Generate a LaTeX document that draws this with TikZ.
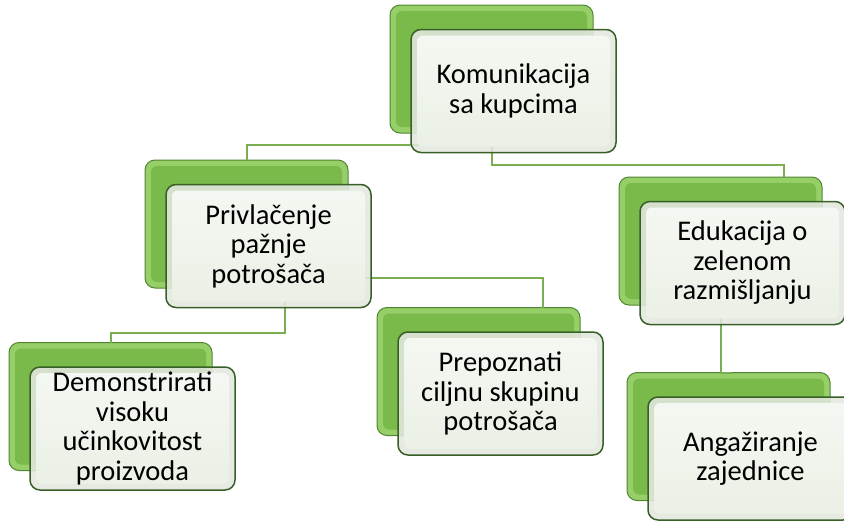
\documentclass[tikz,border=0pt]{standalone}
\usepackage{fontspec}
\setmainfont{Carlito}
\usepackage{tikz}
\usetikzlibrary{calc}
\usetikzlibrary{positioning}
\usepackage{xcolor}
\definecolor{leafgreen}{RGB}{122,186,74}
\definecolor{leaflight}{RGB}{150,206,104}
\definecolor{leafdark}{RGB}{80,134,50}
\definecolor{framegreen}{RGB}{56,96,38}
\definecolor{bevelgray}{RGB}{226,231,222}
\definecolor{paleface}{RGB}{236,242,231}
\definecolor{linegreen}{RGB}{122,174,80}
\tikzset{
backbox/.style={draw=leafdark,
  line width=1pt,
    rounded corners=10pt,
    minimum width=203pt,
    minimum height=128pt,
    inner sep=0pt, outer sep=0pt,
    fill=leaflight,
    path picture={\fill [leafgreen, rounded corners=6pt]
      ([shift={(6pt,-6pt)}]path picture bounding box.north west) rectangle
      ([shift={(-6pt,6pt)}]path picture bounding box.south east);}},
facebox/.style={draw=framegreen,
  line width=1.5pt,
    rounded corners=10pt,
    minimum width=205pt,
    minimum height=123pt,
    inner sep=0pt, outer sep=0pt,
    fill=bevelgray,
    fill opacity=0.88, text opacity=1,
    path picture={\fill [top color=white!60!paleface, bottom color=paleface, rounded corners=6pt, fill opacity=0.9]
      ([shift={(6pt,-6pt)}]path picture bounding box.north west) rectangle
      ([shift={(-6pt,6pt)}]path picture bounding box.south east);},
    font=\fontsize{28.5}{29.5}\selectfont,
    align=center},
conn/.style={draw=linegreen,
  line width=2pt},
}

\begin{document}
\begin{tikzpicture}[x=1pt,y=1pt]
  \useasboundingbox (0,0) rectangle (844,-528);

  % Back boxes
  \node [backbox] (kom-back)  at (491.5,-69) {};
  \node [backbox] (priv-back) at (246.5,-224) {};
  \node [backbox] (edu-back)  at (720.5,-241) {};
  \node [backbox] (dem-back)  at (110.5,-406.5) {};
  \node [backbox] (prep-back) at (478.5,-371.5) {};
  \node [backbox] (ang-back)  at (728.5,-436.5) {};

  % Edges with right-angle corners
  \draw [conn] (kom-back.south) -- ++(0,-12) -| (priv-back.north);
  \draw [conn] (kom-back.south) -- ++(0,-32) -| ([xshift=63]edu-back.north);
  \draw [conn] ([xshift=38]priv-back.south) -- ++(0,-45) -| (dem-back.north);
  \draw [conn] ([yshift=-54]priv-back.east) -| ([xshift=64]prep-back.north);
  \draw [conn] (edu-back.south) -- ++(0,-68) -| ([xshift=3.5]ang-back.north);

  % Front boxes
  \node [facebox] (kom)  at ([shift={(22,-22)}]kom-back.center)  {Komunikacija\\sa kupcima};
  \node [facebox] (priv) at ([shift={(22,-22)}]priv-back.center) {Privlačenje\\pažnje\\potrošača};
  \node [facebox] (edu)  at ([shift={(22,-22)}]edu-back.center)  {Edukacija o\\zelenom\\razmišljanju};
  \node [facebox] (dem)  at ([shift={(22,-22)}]dem-back.center)  {Demonstrirati\\visoku\\učinkovitost\\proizvoda};
  \node [facebox] (prep) at ([shift={(22,-22)}]prep-back.center) {Prepoznati\\ciljnu skupinu\\potrošača};
  \node [facebox] (ang)  at ([shift={(22,-22)}]ang-back.center)  {Angažiranje\\zajednice};
\end{tikzpicture}
\end{document}
